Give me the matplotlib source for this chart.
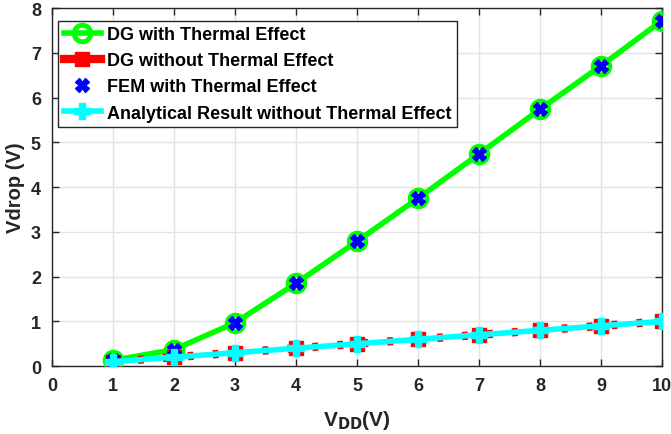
import matplotlib.pyplot as plt

# supply voltage sweep and voltage drop results
vdd = [1, 2, 3, 4, 5, 6, 7, 8, 9, 10]
dg_thermal = [0.13, 0.37, 0.97, 1.85, 2.79, 3.75, 4.74, 5.74, 6.71, 7.72]
dg_no_thermal = [0.1, 0.2, 0.3, 0.4, 0.5, 0.6, 0.7, 0.8, 0.9, 1.0]
fem_thermal = [0.13, 0.37, 0.97, 1.85, 2.79, 3.75, 4.74, 5.74, 6.71, 7.72]
analytical_no_thermal = [0.1, 0.2, 0.3, 0.4, 0.5, 0.6, 0.7, 0.8, 0.9, 1.0]

plt.rcParams["font.family"] = ["Liberation Sans", "DejaVu Sans"]
plt.rcParams["font.weight"] = "bold"
plt.rcParams["mathtext.default"] = "bf"

AX_COLOR = "#262626"

fig = plt.figure(figsize=(6.71, 4.35), dpi=100)
ax = fig.add_axes([0.0775, 0.156, 0.909, 0.823])

ax.plot(vdd, dg_thermal, color="#00ff00", lw=4, marker="o", ms=12,
        mfc="none", mec="#00ff00", mew=3.5, label="DG with Thermal Effect", zorder=3)
ax.plot(vdd, dg_no_thermal, color="red", lw=6, ls=(0, (0.7, 2.3)), marker="s", ms=10,
        mfc="red", mec="red", label="DG without Thermal Effect", zorder=3)
ax.plot(vdd, fem_thermal, ls="none", marker="X", ms=10, color="blue",
        mec="blue", label="FEM with Thermal Effect", zorder=4)
ax.plot(vdd, analytical_no_thermal, color="cyan", lw=4, marker="P", ms=11,
        mfc="cyan", mec="cyan", label="Analytical Result without Thermal Effect", zorder=5)

ax.set_xlim(0, 10)
ax.set_ylim(0, 8)
ax.set_xticks(range(0, 11))
ax.set_yticks(range(0, 9))
ax.grid(True, color="#e3e3e3", lw=1)
ax.set_axisbelow(True)

ax.tick_params(direction="in", top=True, right=True, length=5, width=1,
               colors=AX_COLOR, labelsize=13, pad=8)
for lbl in ax.get_xticklabels() + ax.get_yticklabels():
    lbl.set_fontweight("bold")
for spine in ax.spines.values():
    spine.set_color(AX_COLOR)
    spine.set_linewidth(1)

ax.set_xlabel(r"V$_{DD}$(V)", fontsize=15, fontweight="bold", color=AX_COLOR)
ax.set_ylabel("Vdrop (V)", fontsize=14.5, fontweight="bold", color=AX_COLOR, labelpad=4)
ax.xaxis.set_label_coords(0.5, -0.118)
ax.xaxis.label.set_va("top")

# legend handles keep the red line solid
leg = ax.legend(loc="upper left", bbox_to_anchor=(0.01, 0.964), fontsize=13,
                frameon=True, fancybox=False, edgecolor=AX_COLOR, framealpha=1,
                handlelength=2.1, handletextpad=0.3, borderpad=0.3, labelspacing=0.5,
                borderaxespad=0)
leg.get_frame().set_linewidth(1)
for t in leg.get_texts():
    t.set_fontweight("bold")
leg.legend_handles[1].set_linestyle("-")

fig.savefig("out.png", dpi=100)
